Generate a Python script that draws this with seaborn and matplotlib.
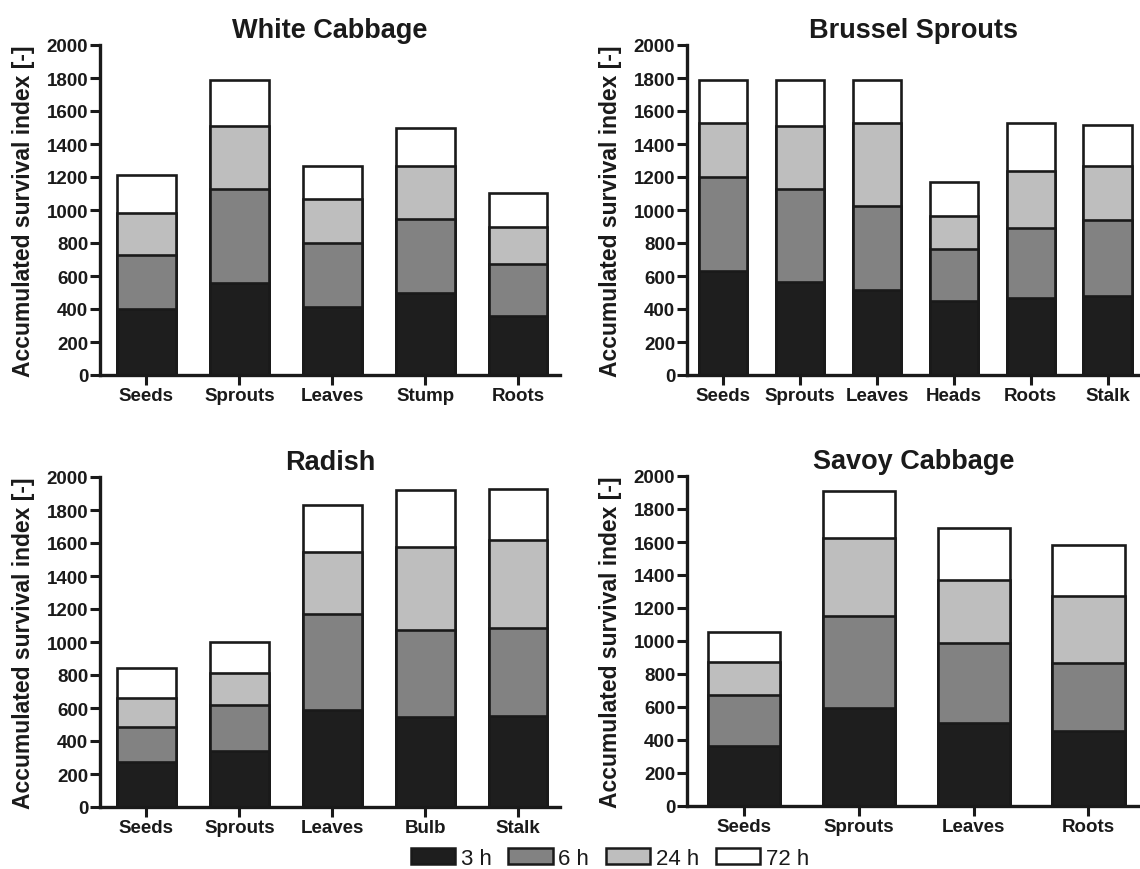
import matplotlib
matplotlib.use("Agg")
import matplotlib.pyplot as plt
import seaborn as sns
import pandas as pd
import numpy as np
from matplotlib.patches import Patch

# exposure times and fill colours
times = ["3 h", "6 h", "24 h", "72 h"]
colors = ["#1e1e1e", "#828282", "#bebebe", "#ffffff"]
edge = "#1a1a1a"

# White Cabbage (segment heights per time)
wc_parts = ["Seeds", "Sprouts", "Leaves", "Stump", "Roots"]
wc_3h = [400, 560, 415, 495, 360]
wc_6h = [330, 565, 385, 450, 315]
wc_24h = [250, 385, 265, 320, 225]
wc_72h = [230, 280, 200, 230, 205]

# Brussel Sprouts
bs_parts = ["Seeds", "Sprouts", "Leaves", "Heads", "Roots", "Stalk"]
bs_3h = [630, 565, 515, 450, 465, 480]
bs_6h = [570, 560, 510, 315, 425, 460]
bs_24h = [325, 385, 500, 200, 345, 325]
bs_72h = [265, 280, 265, 205, 290, 250]

# Radish
ra_parts = ["Seeds", "Sprouts", "Leaves", "Bulb", "Stalk"]
ra_3h = [270, 340, 590, 545, 550]
ra_6h = [215, 280, 580, 530, 535]
ra_24h = [175, 190, 375, 500, 535]
ra_72h = [180, 190, 285, 345, 310]

# Savoy Cabbage
sc_parts = ["Seeds", "Sprouts", "Leaves", "Roots"]
sc_3h = [365, 595, 505, 455]
sc_6h = [310, 555, 480, 410]
sc_24h = [200, 475, 385, 410]
sc_72h = [180, 285, 315, 305]

panels = [
    ("White Cabbage", wc_parts, [wc_3h, wc_6h, wc_24h, wc_72h], [100, 376, 460], (-0.5, 4.45)),
    ("Brussel Sprouts", bs_parts, [bs_3h, bs_6h, bs_24h, bs_72h], [687, 376, 453], (-0.47, 5.42)),
    ("Radish", ra_parts, [ra_3h, ra_6h, ra_24h, ra_72h], [100, 808, 460], (-0.5, 4.45)),
    ("Savoy Cabbage", sc_parts, [sc_3h, sc_6h, sc_24h, sc_72h], [687, 807, 453], (-0.5, 3.45)),
]

sns.set_style("ticks")
plt.rcParams['font.family'] = ['Liberation Sans', 'DejaVu Sans']
plt.rcParams['font.weight'] = 'bold'
plt.rcParams['axes.titleweight'] = 'bold'
plt.rcParams['axes.labelweight'] = 'bold'
plt.rcParams['text.color'] = edge
plt.rcParams['axes.labelcolor'] = edge
plt.rcParams['xtick.color'] = edge
plt.rcParams['ytick.color'] = edge

W, H = 1140, 870
fig = plt.figure(figsize=(W / 100, H / 100), dpi=100)

for title, parts, series, (left, bottom, width), xlim in panels:
    ax = fig.add_axes([left / W, 1 - bottom / H, width / W, 330 / H])
    df = pd.DataFrame({"part": parts})
    for t, vals in zip(times, series):
        df[t] = vals
    cum = df[times].cumsum(axis=1)
    cum["part"] = df["part"]
    # draw from the tallest cumulative layer down so each lower segment covers the one above
    for i in reversed(range(len(times))):
        sns.barplot(data=cum, x="part", y=times[i], order=parts, color=colors[i],
                    saturation=1, edgecolor=edge, linewidth=1.9, width=0.63,
                    errorbar=None, ax=ax)
    ax.set_xlim(*xlim)
    ax.set_ylim(0, 2000)
    ax.set_yticks(np.arange(0, 2001, 200))
    ax.set_xlabel("")
    ax.set_ylabel("Accumulated survival index [-]", fontsize=16.5, labelpad=8)
    ax.set_title(title, fontsize=19.5, pad=6)
    ax.tick_params(axis="both", width=2.2, length=7, color=edge, labelsize=13.5, pad=1.5)
    sns.despine(ax=ax)
    for s in ["left", "bottom"]:
        ax.spines[s].set_linewidth(2.4)
        ax.spines[s].set_color(edge)

handles = [Patch(facecolor=c, edgecolor=edge, linewidth=1.8) for c in colors]
fig.legend(handles, times, loc="center", bbox_to_anchor=(0.535, 0.012), ncol=4,
           frameon=False, prop={"weight": "normal", "size": 16},
           handlelength=2.0, handleheight=0.75, handletextpad=0.25, columnspacing=0.75)

fig.savefig("out.png", dpi=100)
